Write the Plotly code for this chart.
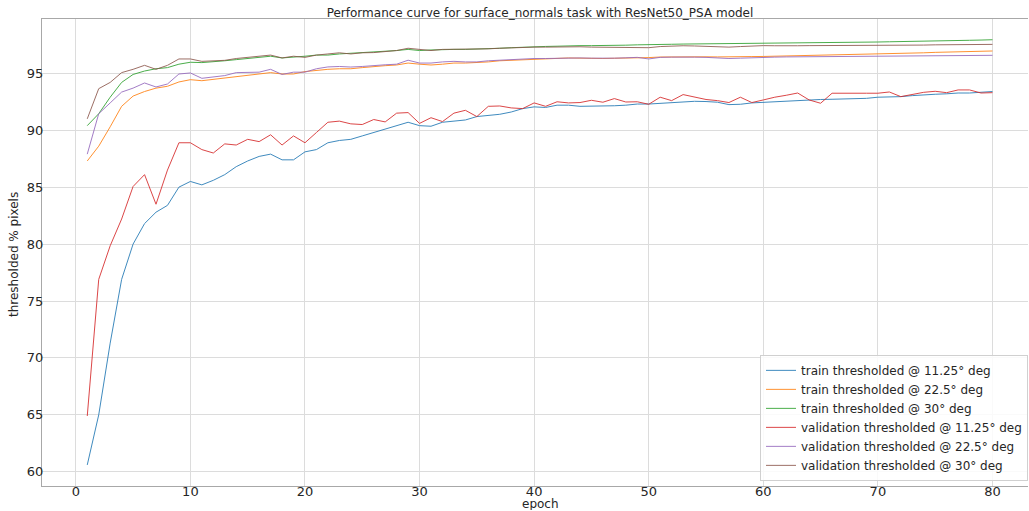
import plotly.graph_objects as go

# Epoch index
epochs = list(range(1, 81))

# Percentage of pixels under each angular-error threshold, per epoch
train_11 = [60.6, 65.0, 71.3, 76.9, 80.0, 81.8, 82.8, 83.4, 85.0, 85.5,
            85.2, 85.6, 86.1, 86.8, 87.3, 87.7, 87.9, 87.4, 87.4, 88.1,
            88.3, 88.9, 89.1, 89.2, 89.5, 89.8, 90.1, 90.4, 90.7, 90.4,
            90.35, 90.7, 90.8, 90.9, 91.2, 91.3, 91.4, 91.6, 91.9, 92.05,
            92.0, 92.2, 92.2, 92.1, 92.1, 92.1, 92.15, 92.2, 92.3, 92.3,
            92.35, 92.43, 92.5, 92.54, 92.52, 92.46, 92.25, 92.28, 92.4, 92.46,
            92.5, 92.57, 92.6, 92.66, 92.7, 92.72, 92.75, 92.75, 92.8, 92.9,
            92.92, 92.95, 93.04, 93.07, 93.16, 93.2, 93.27, 93.27, 93.33, 93.4]

train_22 = [87.3, 88.6, 90.3, 92.1, 93.0, 93.4, 93.7, 93.86, 94.24, 94.44,
            94.35, 94.47, 94.56, 94.7, 94.85, 94.94, 95.06, 94.94, 94.94, 95.15,
            95.26, 95.35, 95.4, 95.4, 95.5, 95.6, 95.67, 95.73, 95.9, 95.8,
            95.73, 95.8, 95.9, 95.9, 95.94, 96.0, 96.1, 96.15, 96.2, 96.26,
            96.28, 96.3, 96.35, 96.33, 96.3, 96.3, 96.32, 96.33, 96.35, 96.38,
            96.43, 96.45, 96.47, 96.46, 96.45, 96.44, 96.43, 96.45, 96.47, 96.48,
            96.5, 96.52, 96.54, 96.55, 96.57, 96.58, 96.6, 96.63, 96.66, 96.7,
            96.72, 96.74, 96.77, 96.8, 96.84, 96.86, 96.89, 96.92, 96.94, 96.96]

train_30 = [90.4, 91.45, 92.9, 94.2, 94.9, 95.2, 95.4, 95.5, 95.8, 95.97,
            95.94, 96.0, 96.1, 96.2, 96.3, 96.4, 96.5, 96.35, 96.4, 96.5,
            96.6, 96.6, 96.7, 96.75, 96.8, 96.85, 96.9, 97.0, 97.1, 97.0,
            97.05, 97.1, 97.1, 97.1, 97.12, 97.2, 97.2, 97.25, 97.3, 97.34,
            97.36, 97.38, 97.43, 97.43, 97.43, 97.43, 97.45, 97.47, 97.5, 97.5,
            97.55, 97.55, 97.57, 97.58, 97.6, 97.58, 97.57, 97.57, 97.58, 97.6,
            97.62, 97.62, 97.63, 97.63, 97.64, 97.66, 97.68, 97.7, 97.72, 97.75,
            97.77, 97.78, 97.8, 97.82, 97.84, 97.86, 97.88, 97.9, 97.92, 97.95]

val_11 = [64.9, 76.9, 79.85, 82.2, 85.06, 86.1, 83.5, 86.5, 88.9, 88.9,
          88.3, 88.0, 88.8, 88.7, 89.2, 89.0, 89.6, 88.7, 89.5, 88.9,
          89.8, 90.7, 90.8, 90.56, 90.5, 90.94, 90.73, 91.5, 91.55, 90.6,
          91.1, 90.76, 91.5, 91.75, 91.2, 92.1, 92.13, 91.96, 91.9, 92.4,
          92.1, 92.5, 92.4, 92.43, 92.63, 92.46, 92.78, 92.48, 92.5, 92.28,
          92.9, 92.6, 93.13, 92.9, 92.7, 92.6, 92.43, 92.9, 92.43, 92.66,
          92.9, 93.07, 93.27, 92.66, 92.37, 93.25, 93.27, 93.27, 93.25, 93.25,
          93.36, 92.95, 93.13, 93.33, 93.42, 93.3, 93.54, 93.54, 93.27, 93.3]

val_22 = [87.9, 91.45, 92.4, 93.35, 93.7, 94.15, 93.8, 94.06, 94.94, 95.03,
          94.56, 94.7, 94.8, 95.06, 95.06, 95.1, 95.35, 94.9, 95.1, 95.1,
          95.4, 95.56, 95.6, 95.55, 95.6, 95.7, 95.75, 95.8, 96.15, 95.9,
          95.9, 96.0, 96.05, 96.0, 96.0, 96.1, 96.15, 96.2, 96.3, 96.3,
          96.3, 96.33, 96.37, 96.35, 96.33, 96.3, 96.33, 96.36, 96.4, 96.26,
          96.4, 96.42, 96.44, 96.42, 96.4, 96.35, 96.3, 96.33, 96.38, 96.4,
          96.42, 96.44, 96.45, 96.45, 96.46, 96.46, 96.45, 96.44, 96.46, 96.5,
          96.5, 96.5, 96.5, 96.5, 96.52, 96.53, 96.54, 96.55, 96.56, 96.58]

val_30 = [91.0, 93.65, 94.2, 95.06, 95.35, 95.7, 95.35, 95.7, 96.26, 96.26,
          96.05, 96.1, 96.14, 96.3, 96.4, 96.5, 96.6, 96.35, 96.5, 96.4,
          96.6, 96.7, 96.8, 96.7, 96.8, 96.82, 96.9, 97.0, 97.2, 97.1,
          97.0, 97.1, 97.1, 97.12, 97.1, 97.15, 97.2, 97.25, 97.3, 97.3,
          97.3, 97.33, 97.35, 97.33, 97.3, 97.3, 97.28, 97.3, 97.3, 97.25,
          97.35, 97.4, 97.42, 97.4, 97.38, 97.35, 97.3, 97.35, 97.4, 97.43,
          97.42, 97.4, 97.42, 97.43, 97.43, 97.43, 97.44, 97.44, 97.43, 97.42,
          97.43, 97.45, 97.47, 97.48, 97.5, 97.5, 97.5, 97.52, 97.53, 97.54]

series_names = [
    "train thresholded @ 11.25° deg",
    "train thresholded @ 22.5° deg",
    "train thresholded @ 30° deg",
    "validation thresholded @ 11.25° deg",
    "validation thresholded @ 22.5° deg",
    "validation thresholded @ 30° deg",
]
series_values = [train_11, train_22, train_30, val_11, val_22, val_30]
colors = ["#1f77b4", "#ff7f0e", "#2ca02c", "#d62728", "#9467bd", "#8c564b"]

fig = go.Figure()
for name, vals, col in zip(series_names, series_values, colors):
    fig.add_trace(go.Scatter(
        x=epochs, y=vals, mode="lines", name=name,
        line=dict(color=col, width=1), opacity=0.85,
    ))

axis_font = dict(family="DejaVu Sans", size=13, color="#262626")

fig.update_layout(
    width=1029, height=511,
    margin=dict(l=42, r=1, t=19, b=25, autoexpand=False),
    paper_bgcolor="white", plot_bgcolor="white",
    font=dict(family="DejaVu Sans", size=12, color="#262626"),
    title=dict(
        text="Performance curve for surface_normals task with ResNet50_PSA model",
        font=dict(family="DejaVu Sans", size=12, color="#262626"),
        xref="container", x=540 / 1029, xanchor="center",
        yref="container", y=1 - 13 / 511, yanchor="middle",
    ),
    xaxis=dict(
        range=[-2.95, 83.1],
        tickvals=[0, 10, 20, 30, 40, 50, 60, 70, 80],
        tickfont=axis_font,
        showgrid=True, gridcolor="#dcdcdc", gridwidth=1,
        zeroline=False, automargin=False,
        showline=True, linecolor="#a8a8a8", linewidth=1, mirror=True,
        ticks="", ticklabelstandoff=-7,
    ),
    yaxis=dict(
        range=[58.75, 99.77],
        tickvals=[60, 65, 70, 75, 80, 85, 90, 95],
        tickfont=axis_font,
        showgrid=True, gridcolor="#dcdcdc", gridwidth=1,
        zeroline=False, automargin=False,
        showline=True, linecolor="#a8a8a8", linewidth=1, mirror=False,
        ticks="", ticklabelstandoff=-5,
    ),
    legend=dict(
        x=1, xanchor="right", y=0.011, yanchor="bottom",
        bgcolor="rgba(255,255,255,0.85)",
        bordercolor="#d0d0d0", borderwidth=1,
        font=dict(family="DejaVu Sans", size=12, color="#262626"),
        itemwidth=30, tracegroupgap=0,
    ),
    annotations=[
        dict(text="epoch", xref="paper", x=(540 - 42) / 986, xanchor="center",
             yref="paper", y=-(511 - 486) / 467, yanchor="bottom",
             height=13, borderpad=0,
             showarrow=False, font=dict(family="DejaVu Sans", size=12)),
        dict(text="thresholded % pixels", textangle=-90,
             xref="paper", x=-(42 - 14) / 986, xanchor="center",
             yref="paper", y=(486 - 255) / 467, yanchor="middle",
             showarrow=False, font=dict(family="DejaVu Sans", size=12)),
    ],
)

fig.write_html("out.html")
